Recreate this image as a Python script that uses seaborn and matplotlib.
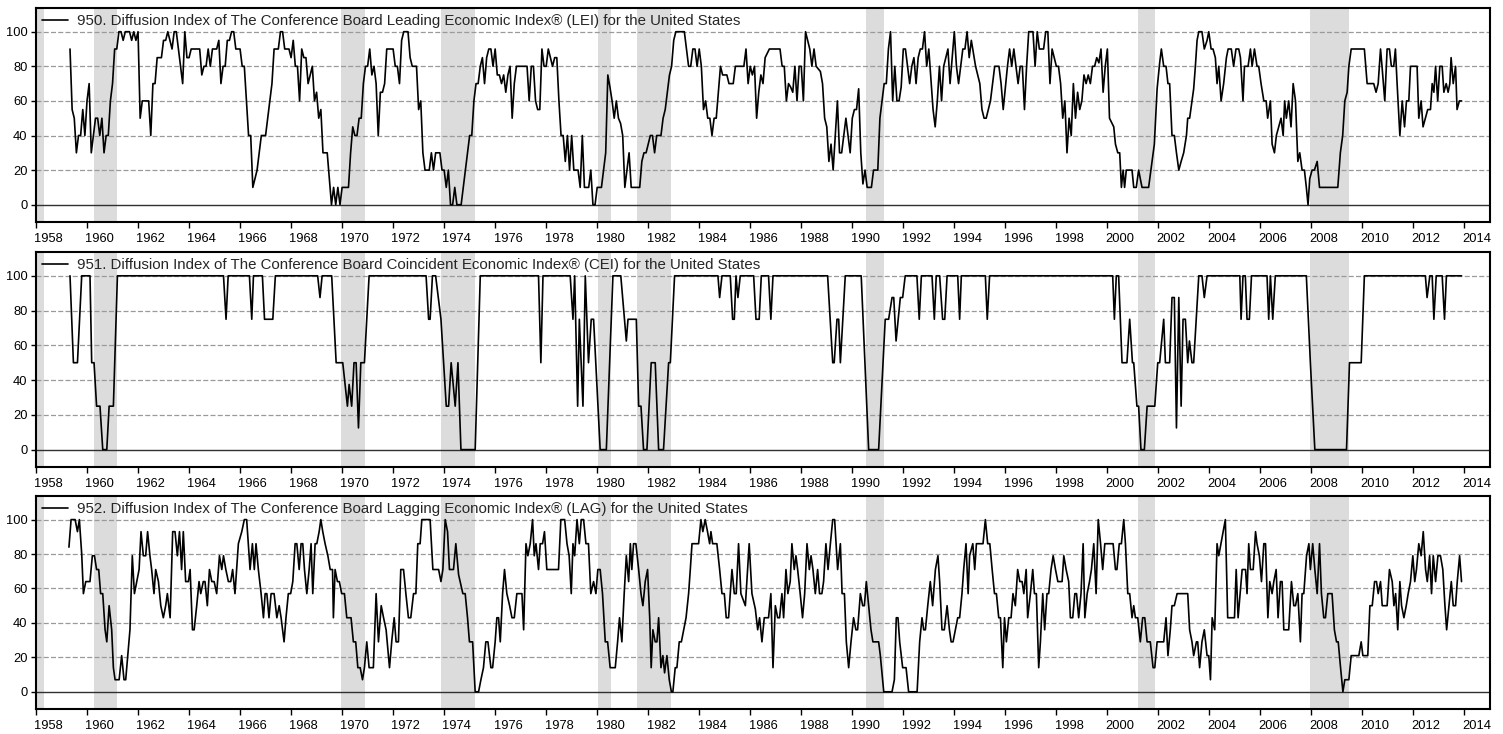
import numpy as np
import pandas as pd
import matplotlib
matplotlib.use('Agg')
import matplotlib.pyplot as plt
import seaborn as sns

# recession bands (decimal years)
rec_start = [1957.6, 1960.27, 1969.96, 1973.88, 1980.04, 1981.55, 1990.55, 2001.20, 2007.96]
rec_end = [1958.31, 1961.18, 1970.90, 1975.20, 1980.55, 1982.90, 1991.24, 2001.88, 2009.49]

# LEI diffusion, monthly from Apr 1959 (month 16 counted from Jan 1958) to Jul 1985
lei_first_month = 16
lei_monthly = [
    90, 55, 50, 30, 40, 40, 55, 40, 60, 70, 30, 40, 50, 50, 40, 50, 30, 40, 40, 60,
    70, 90, 90, 100, 100, 95, 100, 100, 100, 95, 100, 95, 100, 50, 60, 60, 60, 60, 40, 70,
    70, 85, 85, 85, 95, 95, 100, 95, 90, 100, 100, 90, 80, 70, 100, 85, 85, 90, 90, 90,
    90, 90, 75, 80, 80, 90, 80, 90, 90, 90, 95, 70, 80, 80, 95, 95, 100, 100, 90, 90,
    90, 80, 80, 60, 40, 40, 10, 15, 20, 30, 40, 40, 40, 50, 60, 70, 90, 90, 90, 100,
    100, 90, 90, 90, 85, 95, 80, 80, 60, 90, 85, 85, 70, 75, 80, 60, 65, 50, 55, 30,
    30, 30, 15, 0, 10, 0, 10, 0, 10, 10, 10, 10, 30, 45, 40, 40, 50, 50, 70, 80,
    80, 90, 75, 80, 70, 40, 65, 65, 70, 90, 90,
    90, 90, 80, 80, 70, 95, 100, 100, 100, 85, 80, 80, 80, 55, 60, 30, 20, 20, 20, 30,
    20, 30, 30, 30, 20, 20, 10, 20, 0, 0, 10, 0, 0, 0, 10, 20, 30, 40, 40, 60,
    70, 70, 80, 85, 70, 85, 90, 90, 80, 90, 75, 75, 70, 75, 65, 75, 80, 50, 70, 80,
    80, 80, 80, 80, 80, 60, 80, 80, 60, 55, 55, 90, 80, 80, 90, 85, 80, 85, 85, 60,
    40, 40, 25, 40, 20, 40, 20, 20, 20, 10, 40, 10, 10, 10, 20, 0, 0, 10, 10, 10,
    20, 30, 75, 68, 60, 50, 60, 50, 47, 40, 10, 20, 30, 10, 10, 10, 10, 10, 25, 30,
    30, 35, 40, 40, 30, 40, 40, 40, 50, 55, 65, 75, 80, 95, 100, 100, 100, 100, 100, 90,
    80, 80, 90, 90, 80, 90, 80, 55, 60, 50, 50, 40, 50, 50, 65, 80, 75, 75, 75, 70,
    70, 70, 80, 80]

# LEI diffusion after that, as (month since Jan 1958, value) turning points
lei_points = [
    (331, 80), (333, 80), (334, 90), (335, 70), (336, 80), (337, 75), (338, 80), (339, 50), (340, 65),
    (341, 75), (342, 70), (343, 85), (345, 90), (350, 90), (351, 80), (352, 80), (353, 60), (354, 70),
    (355, 68), (356, 65), (357, 80), (358, 60), (359, 80), (360, 80), (361, 60), (362, 100), (363, 95),
    (364, 90), (365, 80), (366, 90), (367, 80), (369, 77), (370, 70), (371, 50), (372, 45), (373, 25),
    (374, 35), (375, 20), (377, 60), (378, 30), (379, 30), (381, 50), (383, 30), (384, 50), (385, 55),
    (386, 55), (387, 67), (388, 30), (389, 12), (390, 20), (391, 10), (393, 10), (394, 20), (396, 20),
    (397, 50), (398, 60), (399, 70), (400, 70), (401, 90), (402, 100), (403, 60), (404, 80), (405, 60),
    (406, 60), (407, 68), (408, 90), (409, 90), (411, 70), (412, 80), (413, 85), (414, 70), (415, 85),
    (416, 90), (417, 90), (418, 100), (419, 80), (420, 90), (422, 55), (423, 45), (424, 60), (425, 80),
    (426, 60), (427, 80), (429, 90), (430, 70), (432, 100), (433, 80), (434, 70), (435, 80), (436, 90),
    (437, 90), (438, 100), (439, 85), (440, 95), (442, 80), (443, 75), (444, 70), (445, 55), (446, 50),
    (447, 50), (449, 60), (451, 80), (453, 80), (454, 70), (455, 55), (457, 80), (458, 90), (459, 80),
    (460, 90), (461, 80), (462, 70), (463, 80), (464, 80), (465, 55), (466, 80), (467, 100), (469, 100),
    (470, 80), (471, 100), (472, 90), (474, 90), (475, 100), (476, 100), (477, 70), (478, 90), (480, 80),
    (481, 80), (482, 70), (483, 50), (484, 60), (485, 30), (486, 50), (487, 40), (488, 70), (489, 50),
    (490, 65), (491, 55), (492, 60), (493, 75), (494, 70), (495, 75), (496, 70), (497, 80), (498, 80),
    (499, 85), (500, 82), (501, 90), (502, 65), (503, 80), (504, 90), (505, 50),
    (507.0, 45), (507.8, 35), (508.9, 30), (509.8, 30), (510.6, 10), (511.4, 20), (512.1, 10),
    (512.9, 20), (514.0, 20), (515.6, 20), (516.4, 10), (517.6, 10), (518.7, 20), (520.3, 10),
    (523.4, 10), (525.0, 25), (526.1, 35), (527.4, 67), (528.6, 82), (529.4, 90), (530.5, 80),
    (531.6, 80), (532.5, 70), (533.3, 70), (534.4, 40), (535.5, 40), (536.5, 30), (537.6, 20),
    (538.7, 25), (539.9, 30), (541.2, 40), (541.8, 50), (542.7, 50), (543.8, 60), (544.6, 67),
    (545.4, 80), (546.2, 95), (547.0, 100), (548.5, 100), (549.6, 90), (550.9, 95), (551.7, 100),
    (552.8, 90), (553.7, 90), (554.8, 85), (555.6, 70), (556.4, 80), (557.5, 60), (558.7, 70),
    (560.0, 85), (560.8, 90), (562.3, 90), (563.4, 80), (564.5, 90), (565.8, 90), (566.6, 85),
    (567.8, 60), (568.5, 80), (570.2, 80), (571.3, 90), (572.1, 80), (573.2, 90), (574.4, 80),
    (575.2, 80), (576.3, 70), (577.6, 60), (578.7, 60), (579.4, 50), (580.7, 60), (581.5, 35),
    (582.6, 30), (583.5, 40), (584.6, 45), (585.7, 50), (586.7, 40), (587.4, 60), (588.2, 50),
    (589.3, 60), (590.4, 45), (591.4, 70), (592.5, 60), (593.6, 25), (594.5, 30), (595.6, 20),
    (596.7, 20), (597.6, 10), (598.4, 0), (599.2, 15), (600.3, 20), (601.4, 20), (602.7, 25),
    (603.8, 10), (612.4, 10), (613.6, 30), (614.7, 40), (615.7, 60), (616.8, 65), (617.6, 80),
    (618.7, 90), (624.9, 90), (626.2, 70), (629.3, 70), (630.4, 65), (631.4, 70), (632.5, 90),
    (633.2, 80), (634.5, 60), (635.6, 90), (636.7, 90), (637.6, 80), (638.7, 80), (639.5, 90),
    (640.3, 70), (641.6, 40), (642.7, 60), (643.8, 45), (644.7, 60), (645.8, 60), (646.6, 80),
    (649.7, 80), (650.5, 50), (651.6, 60), (652.5, 45), (653.6, 50), (654.7, 55), (656.0, 55),
    (656.8, 70), (657.6, 65), (658.4, 80), (659.4, 60), (660.4, 80), (661.5, 80), (662.3, 65),
    (663.4, 70), (664.3, 65), (665.1, 70), (665.7, 85), (666.7, 70), (667.8, 80), (668.5, 55),
    (669.6, 60), (670.6, 60)]

# CEI diffusion turning points (month since Jan 1958, value)
cei_points = [
    (16, 100), (17.6, 50), (19.5, 50), (21.5, 100), (25.4, 100), (26.2, 50), (27.3, 50), (28.5, 25),
    (30.1, 25), (31.4, 0), (33.3, 0), (34.4, 25), (36.4, 25), (38.3, 100), (88.2, 100), (89.4, 75),
    (90.4, 100), (100.4, 100), (101.5, 75), (102.3, 100), (106.5, 100), (107.5, 75), (111.4, 75),
    (112.6, 100), (132.5, 100), (133.6, 87.5), (134.6, 100), (139.1, 100), (141.2, 50), (144.3, 50),
    (146.5, 25), (147.3, 37.5), (148.5, 25), (149.6, 50), (150.6, 50), (151.7, 12.5), (152.8, 50),
    (154.5, 50), (156.7, 100), (183.5, 100), (184.7, 75), (185.4, 75), (186.5, 100), (188.0, 100),
    (190.5, 75), (193.0, 25), (194.1, 25), (195.3, 50), (197.2, 25), (198.5, 50), (199.9, 0),
    (206.6, 0), (209.0, 100), (236.4, 100), (237.5, 50), (238.5, 100), (251.3, 100), (252.6, 75),
    (253.4, 100), (254.8, 25), (255.6, 75), (257.3, 25), (258.4, 100), (259.9, 50), (261.2, 75),
    (262.3, 75), (265.4, 0), (268.3, 0), (271.4, 100), (275.1, 100), (277.7, 62.5), (278.5, 75),
    (282.4, 75), (283.5, 25), (284.6, 25), (285.8, 0), (287.4, 0), (289.4, 50), (291.3, 50),
    (292.9, 0), (295.2, 0), (297.6, 50), (298.4, 50), (300.4, 100), (320.8, 100), (321.6, 87.5),
    (322.7, 100), (326.6, 100), (327.7, 75), (328.5, 75), (329.3, 100), (330.2, 87.5), (331.3, 100),
    (337.6, 100), (338.7, 75), (340.2, 75), (341.2, 100), (344.6, 100), (345.7, 75), (346.7, 100),
    (372.4, 100), (374.8, 50), (375.5, 50), (376.8, 75), (377.6, 75), (378.4, 50), (380.7, 100),
    (388.2, 100), (391.7, 0), (396.4, 0), (399.5, 75), (401.1, 75), (402.7, 87.5), (403.5, 87.5),
    (404.6, 62.5), (406.6, 87.5), (407.7, 87.5), (408.9, 100), (414.4, 100), (415.5, 75),
    (416.5, 100), (421.5, 100), (422.6, 75), (423.5, 100), (425.1, 100), (426.5, 75), (427.5, 75),
    (428.6, 100), (433.6, 100), (434.5, 75), (435.3, 100), (446.6, 100), (447.5, 75), (448.6, 100),
    (506.5, 100), (507.3, 75), (508.2, 100), (509.3, 100), (510.9, 50), (513.2, 50), (514.5, 75),
    (515.8, 50), (516.4, 50), (517.9, 25), (518.7, 25), (519.8, 0), (521.4, 0), (522.7, 25),
    (526.3, 25), (527.7, 50), (528.6, 50), (530.5, 75), (531.3, 50), (533.3, 50), (534.4, 87.5),
    (535.5, 87.5), (536.5, 12.5), (537.6, 87.5), (538.7, 25), (539.6, 75), (540.7, 75), (541.8, 50),
    (542.6, 62.5), (543.8, 50), (544.6, 50), (547.0, 100), (548.5, 100), (549.6, 87.5), (550.9, 100),
    (566.3, 100), (566.9, 75), (567.8, 100), (568.9, 100), (569.7, 75), (570.8, 75), (571.8, 100),
    (579.1, 100), (579.9, 75), (580.7, 100), (581.8, 75), (583.0, 100), (597.6, 100), (599.5, 50),
    (601.6, 0), (616.5, 0), (617.9, 50), (623.4, 50), (624.9, 100), (653.6, 100), (654.4, 87.5),
    (655.7, 100), (656.8, 100), (657.6, 75), (658.7, 100), (661.5, 100), (662.6, 75), (663.5, 100),
    (670.6, 100)]

# LAG diffusion turning points (month since Jan 1958, value)
lag_points = [
    (15.5, 84), (16.5, 100), (18.4, 100), (19.5, 93), (20.4, 100), (21.5, 80), (22.3, 57), (23.4, 64),
    (25.4, 64), (26.5, 79), (27.5, 79), (28.5, 71), (29.5, 71), (30.4, 57), (31.4, 57), (32.5, 36),
    (33.3, 29), (34.4, 50), (35.6, 36), (36.4, 14), (37.2, 7), (39.1, 7), (40.3, 21), (41.4, 7),
    (42.2, 7), (44.2, 36), (45.3, 79), (46.3, 57), (47.4, 64), (48.5, 71), (49.4, 93), (50.5, 79),
    (51.6, 79), (52.5, 93), (53.6, 79), (54.4, 71), (55.5, 57), (56.3, 71), (57.6, 64), (58.7, 50),
    (59.9, 43), (61.0, 50), (61.8, 57), (63.1, 43), (64.3, 93), (65.4, 93), (66.5, 79), (67.5, 93),
    (68.5, 71), (69.3, 93), (70.4, 64), (71.7, 64), (72.5, 71), (73.6, 36), (74.4, 36), (75.6, 50),
    (76.7, 64), (77.5, 57), (78.7, 64), (79.5, 64), (80.6, 50), (81.6, 71), (82.7, 64), (83.8, 64),
    (85.0, 57), (86.3, 79), (87.4, 71), (88.2, 79), (89.3, 71), (90.5, 64), (91.6, 64), (92.5, 71),
    (93.6, 57), (95.2, 86), (96.8, 93), (98.0, 100), (99.1, 100), (100.7, 71), (101.8, 86),
    (102.7, 71), (103.5, 86), (104.6, 71), (105.9, 57), (107.0, 43), (107.8, 57), (108.6, 57),
    (109.6, 43), (110.6, 57), (112.0, 57), (113.3, 43), (114.4, 50), (115.3, 43), (116.7, 29),
    (117.6, 43), (118.7, 57), (119.8, 57), (120.8, 64), (121.9, 86), (122.7, 86), (123.8, 71),
    (124.7, 86), (125.5, 86), (126.3, 71), (127.4, 57), (128.5, 71), (129.4, 86), (130.2, 57),
    (131.3, 86), (132.1, 86), (133.2, 93), (134.0, 100), (134.9, 93), (136.0, 86), (137.3, 79),
    (138.4, 71), (139.5, 71), (139.9, 43), (140.7, 71), (141.8, 64), (142.7, 64), (143.8, 57),
    (145.1, 57), (146.2, 43), (147.3, 43), (148.2, 43), (149.3, 29), (150.4, 29), (151.4, 14),
    (152.5, 14), (153.6, 7), (154.5, 14), (155.6, 29), (156.7, 14), (158.7, 14),
    (160.0, 57), (161.1, 29), (162.4, 50), (163.5, 43), (164.7, 36), (166.3, 14), (167.4, 30),
    (168.5, 43), (169.4, 29), (170.5, 29), (171.6, 71), (172.9, 71), (174.0, 57), (175.2, 43),
    (176.3, 43), (177.6, 57), (178.7, 57), (179.6, 86), (180.7, 86), (181.5, 100), (185.4, 100),
    (186.7, 71), (189.4, 71), (190.5, 64), (191.4, 71), (192.5, 100), (193.6, 93), (194.5, 71),
    (196.4, 71), (197.5, 86), (198.8, 68), (199.9, 62), (200.8, 57), (201.9, 57), (203.0, 43),
    (203.9, 29), (205.4, 29), (206.6, 0), (208.2, 0), (209.3, 7), (210.5, 14), (211.6, 29),
    (212.6, 29), (214.0, 14), (214.8, 14), (216.0, 29), (216.8, 43), (217.6, 43), (218.4, 29),
    (219.5, 57), (220.4, 71), (221.5, 57), (222.8, 50), (223.9, 43), (225.0, 43), (226.2, 57),
    (228.6, 57), (229.4, 36), (230.5, 86), (231.4, 79), (232.5, 86), (233.6, 100), (234.4, 79),
    (235.2, 86), (236.4, 71), (237.2, 86), (238.3, 86), (239.2, 93), (240.3, 71), (245.8, 71),
    (246.9, 100), (248.7, 100), (249.8, 86), (250.8, 79), (251.8, 57), (252.6, 86), (253.4, 79),
    (254.5, 100), (255.6, 86), (256.5, 100), (257.6, 100), (258.7, 86), (259.9, 86), (261.0, 57),
    (262.3, 64), (263.4, 57), (264.3, 71), (265.4, 71), (266.5, 57), (267.8, 29), (268.9, 29),
    (270.1, 14), (272.5, 14), (273.6, 29), (274.5, 43), (275.6, 29), (276.7, 57), (277.7, 79),
    (278.8, 64), (279.6, 86), (280.3, 71), (281.1, 86), (282.2, 86), (283.5, 71), (284.6, 57),
    (285.5, 50), (286.6, 64), (287.7, 71), (288.7, 43), (289.4, 14), (290.2, 36), (291.3, 29),
    (292.1, 29), (292.9, 43), (294.0, 14), (294.9, 21), (295.7, 11), (296.8, 21), (297.9, 7),
    (298.9, 0), (299.6, 0), (300.7, 14), (301.5, 14), (302.6, 29), (303.6, 29), (304.7, 36),
    (305.8, 43), (307.0, 57), (307.8, 71), (308.6, 86), (311.7, 86), (312.8, 100), (313.7, 93),
    (314.8, 100), (315.9, 93), (316.9, 86), (317.5, 93), (318.3, 86), (320.3, 86), (321.6, 71),
    (322.7, 57), (323.8, 57), (324.7, 43), (325.8, 43), (327.4, 71), (328.5, 57), (329.4, 57),
    (330.5, 86), (331.6, 57),
    (333.7, 50), (335.5, 86), (336.8, 57), (338.4, 48), (339.5, 36), (340.4, 43), (341.5, 29),
    (342.6, 43), (344.6, 43), (345.7, 57), (346.7, 14), (347.8, 50), (348.9, 43), (349.8, 43),
    (350.9, 57), (351.7, 43), (352.8, 71), (353.7, 57), (354.8, 64), (355.6, 86), (356.7, 71),
    (357.5, 79), (358.3, 71), (359.5, 57), (360.6, 43), (361.6, 57), (362.7, 86), (363.8, 71),
    (364.6, 79), (365.5, 71), (366.6, 57), (367.7, 71), (368.6, 57), (369.7, 57), (370.5, 64),
    (371.6, 86), (372.6, 71), (373.7, 86), (374.8, 100), (375.7, 100), (377.1, 71), (378.4, 86),
    (379.2, 57), (380.3, 57), (381.2, 29), (382.3, 14), (383.4, 29), (384.6, 43), (385.7, 36),
    (386.5, 36), (387.8, 57), (388.9, 50), (389.7, 50), (390.6, 64), (391.7, 50), (392.8, 36),
    (393.7, 29), (396.4, 29), (397.2, 21), (398.8, 0), (402.7, 0), (403.8, 7), (404.7, 43),
    (405.5, 43), (406.3, 29), (407.7, 14), (409.3, 14), (410.5, 0), (414.5, 0), (415.7, 29),
    (416.8, 43), (417.6, 36), (418.4, 36), (419.5, 50), (420.7, 64), (421.8, 50), (423.1, 71),
    (424.3, 79), (425.1, 64), (426.2, 36), (427.3, 36), (428.6, 50), (429.7, 36), (430.5, 29),
    (431.4, 29), (432.5, 36), (433.6, 43), (434.5, 43), (435.6, 57), (436.4, 71), (437.5, 86),
    (438.5, 57), (439.2, 79), (440.7, 86), (441.6, 71), (442.4, 86), (445.5, 86), (446.6, 100),
    (447.7, 86), (448.7, 86), (449.8, 71), (450.9, 57), (451.8, 57), (452.9, 43), (453.7, 43),
    (454.8, 14), (455.6, 43), (456.5, 29), (457.6, 43), (458.7, 43), (459.6, 57), (460.7, 50),
    (461.8, 71), (462.8, 64), (463.9, 64), (464.7, 57), (465.8, 71), (466.5, 43), (467.8, 57),
    (468.9, 71), (469.7, 57), (470.6, 57), (471.7, 14), (472.5, 29), (473.6, 57), (474.5, 36),
    (475.6, 57), (476.4, 57), (477.5, 71), (478.5, 79), (479.6, 71), (480.7, 64), (482.7, 64),
    (483.5, 79), (484.6, 71), (485.8, 64), (486.6, 43), (487.7, 43), (488.7, 57), (489.5, 57),
    (490.5, 43), (491.6, 57), (492.6, 86), (493.4, 43), (494.5, 57), (495.6, 64), (496.5, 71),
    (497.6, 86), (498.7, 57), (499.7, 100), (500.8, 86), (501.8, 71), (502.8, 86), (506.7, 86),
    (507.8, 71), (508.5, 71), (509.6, 86), (510.6, 86), (511.7, 100), (512.5, 86), (513.6, 57),
    (514.5, 57), (515.6, 43), (516.4, 50), (517.2, 43), (518.3, 43), (519.5, 29), (520.6, 43),
    (521.6, 43), (522.7, 29), (524.2, 29), (525.5, 14), (526.3, 14), (527.4, 29), (530.5, 29),
    (531.6, 43), (532.5, 21), (533.6, 36), (534.4, 50), (535.5, 50), (536.8, 57), (541.8, 57),
    (542.7, 36), (543.8, 29), (544.6, 21), (545.9, 29), (546.5, 29), (547.4, 14), (548.5, 29),
    (549.6, 36), (550.9, 21), (551.7, 21), (552.5, 7), (553.3, 43), (554.5, 36), (555.6, 86),
    (556.4, 79), (559.5, 100), (560.6, 43), (563.8, 43), (564.6, 71), (565.5, 43), (567.4, 71),
    (569.0, 71), (569.7, 57), (570.5, 86), (571.3, 71), (572.6, 71), (573.7, 93), (574.4, 86),
    (575.5, 79), (576.5, 64), (577.6, 86), (578.4, 86), (579.5, 43), (580.4, 64), (581.5, 57),
    (582.3, 64), (583.4, 71), (584.3, 43), (585.4, 64), (586.2, 64), (587.0, 36), (589.3, 36),
    (590.6, 64), (591.7, 50), (592.5, 50), (593.6, 57), (594.8, 29), (595.6, 57), (596.4, 57),
    (597.7, 79), (598.8, 86), (599.5, 71), (600.6, 86), (601.6, 71), (602.7, 57), (603.8, 86),
    (604.7, 57), (605.8, 43), (606.6, 43), (607.7, 57), (609.7, 57), (610.8, 36), (611.8, 29),
    (612.6, 29), (613.7, 14), (614.8, 0), (615.7, 7), (617.6, 7), (618.7, 21), (622.3, 21),
    (623.4, 29), (624.2, 21), (626.5, 21), (627.5, 50), (628.6, 50), (629.7, 64), (630.6, 64),
    (631.4, 57), (632.5, 64), (633.3, 50), (635.6, 50), (636.7, 71), (638.0, 64), (638.8, 50),
    (639.6, 57), (640.6, 36), (641.6, 64), (642.4, 50), (643.5, 43), (644.6, 50), (645.5, 57),
    (646.6, 64), (647.7, 79), (648.6, 64), (649.4, 71), (650.5, 86), (651.6, 79), (652.6, 93),
    (653.7, 71), (654.5, 64), (655.6, 79), (656.5, 57), (657.3, 79), (658.4, 64), (659.5, 79),
    (660.7, 79), (661.8, 71), (662.8, 50), (663.6, 36), (664.7, 50), (665.8, 64), (666.7, 50),
    (667.8, 50), (668.6, 64), (669.7, 79), (670.6, 64)]

titles = [
    '950. Diffusion Index of The Conference Board Leading Economic Index\u00ae (LEI) for the United States',
    '951. Diffusion Index of The Conference Board Coincident Economic Index\u00ae (CEI) for the United States',
    '952. Diffusion Index of The Conference Board Lagging Economic Index\u00ae (LAG) for the United States',
]


def to_frame(points):
    m, v = zip(*points)
    return pd.DataFrame({'year': 1958 + np.array(m, dtype=float) / 12, 'value': v})


lei_df = pd.concat([
    pd.DataFrame({'year': 1958 + (lei_first_month + np.arange(len(lei_monthly))) / 12,
                  'value': lei_monthly}),
    to_frame(lei_points)], ignore_index=True)
frames = [lei_df, to_frame(cei_points), to_frame(lag_points)]

sns.set_theme(style='white')
plt.rcParams['font.family'] = ['Liberation Sans', 'DejaVu Sans']

fig = plt.figure(figsize=(15.03, 7.34), dpi=100)
W, H = 1503, 734
boxes = [(8, 222), (252, 467), (496, 709)]  # top/bottom pixel rows of each panel

for (top, bot), df, title in zip(boxes, frames, titles):
    ax = fig.add_axes([36 / W, 1 - bot / H, (1490 - 36) / W, (bot - top) / H])
    for s, e in zip(rec_start, rec_end):
        ax.axvspan(s, e, color='#dcdcdc', lw=0, zorder=0)
    for yv in [20, 40, 60, 80, 100]:
        ax.axhline(yv, color='#9a9a9a', lw=0.9, ls=(0, (4, 1.8)), zorder=1)
    ax.axhline(0, color='#303030', lw=1.0, zorder=1)

    sns.lineplot(data=df, x='year', y='value', ax=ax, color='black', lw=1.2,
                 estimator=None, sort=False, label=title, zorder=3)

    ax.set_xlim(1958, 2015)
    ax.set_ylim(-10, 113.7)
    ax.set_yticks([0, 20, 40, 60, 80, 100])
    ax.tick_params(axis='y', length=3.5, width=1, direction='out', pad=2.5, labelsize=9.3,
                   colors='black', left=True)
    ax.set_xticks(np.arange(1958, 2015, 2))
    ax.set_xticklabels([])
    ax.set_xticks(np.arange(1958.5, 2015, 2), minor=True)
    ax.set_xticklabels([str(y) for y in range(1958, 2015, 2)], minor=True)
    ax.tick_params(axis='x', which='major', length=4, width=1, direction='out', color='black', bottom=True)
    ax.tick_params(axis='x', which='minor', length=0, pad=8, labelsize=9.3, labelcolor='black', bottom=True)
    ax.set_xlabel('')
    ax.set_ylabel('')
    for sp in ax.spines.values():
        sp.set_color('black')
        sp.set_linewidth(1.5)
    ax.legend(loc='upper left', frameon=False, fontsize=10.8, handlelength=1.75,
              handletextpad=0.6, borderaxespad=0.25, borderpad=0.15)

fig.savefig('out.png', dpi=100)
